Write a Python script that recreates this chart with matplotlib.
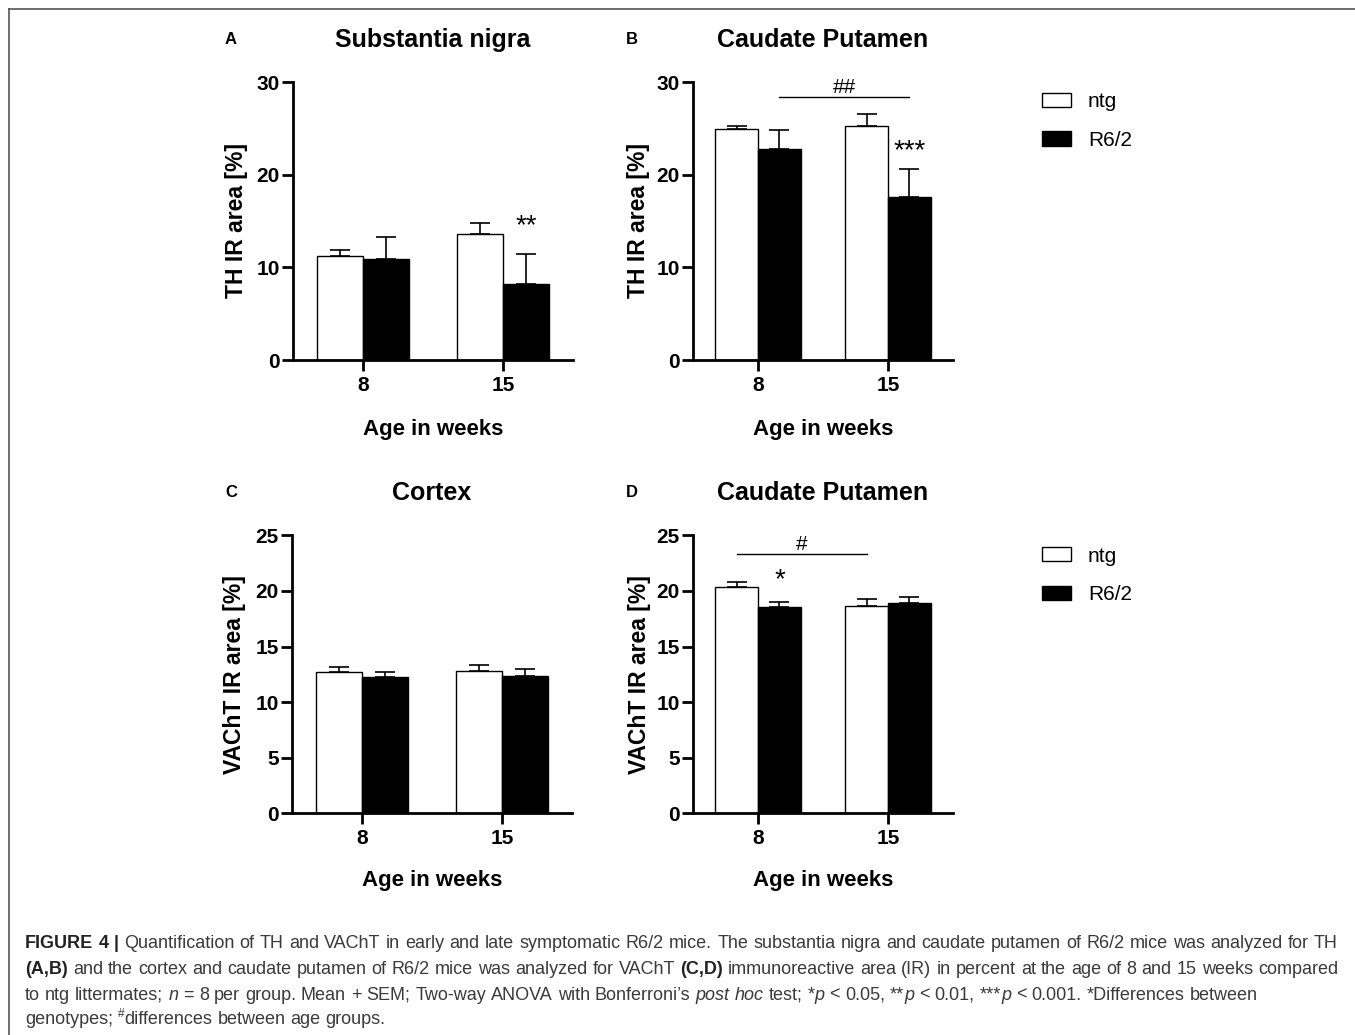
import matplotlib
matplotlib.use('Agg')
import matplotlib.pyplot as plt
from matplotlib.lines import Line2D
import matplotlib.transforms as mtransforms
import numpy as np

W, H = 1355, 1035
plt.rcParams['font.family'] = ['Liberation Sans', 'DejaVu Sans']

# ---------------- data ----------------
ages = ['8', '15']
groups = ['ntg', 'R6/2']

sn_ntg = [11.2, 13.55]
sn_ntg_sem = [0.7, 1.25]
sn_r62 = [10.85, 8.2]
sn_r62_sem = [2.45, 3.25]

cpth_ntg = [24.9, 25.2]
cpth_ntg_sem = [0.35, 1.4]
cpth_r62 = [22.8, 17.6]
cpth_r62_sem = [2.05, 3.0]

ctx_ntg = [12.73, 12.82]
ctx_ntg_sem = [0.42, 0.55]
ctx_r62 = [12.23, 12.35]
ctx_r62_sem = [0.45, 0.63]

cpv_ntg = [20.32, 18.67]
cpv_ntg_sem = [0.45, 0.57]
cpv_r62 = [18.58, 18.91]
cpv_r62_sem = [0.45, 0.51]

titles = ['Substantia nigra', 'Caudate Putamen', 'Cortex', 'Caudate Putamen']
letters = ['A', 'B', 'C', 'D']
ylabels = ['TH IR area [%]', 'TH IR area [%]', 'VAChT IR area [%]', 'VAChT IR area [%]']
yticks_th = [0, 10, 20, 30]
yticks_v = [0, 5, 10, 15, 20, 25]
xlabel = 'Age in weeks'

# ---------------- figure ----------------
fig = plt.figure(figsize=(W / 100, H / 100), dpi=100)


def add_ax(l, r, t, b):
    return fig.add_axes([l / W, 1 - b / H, (r - l) / W, (b - t) / H])


ax_rects = [(293, 573, 82, 360), (693, 953, 82, 360),
            (292, 572, 535.3, 813.3), (693, 953, 535.3, 813.3)]
data = [(sn_ntg, sn_ntg_sem, sn_r62, sn_r62_sem),
        (cpth_ntg, cpth_ntg_sem, cpth_r62, cpth_r62_sem),
        (ctx_ntg, ctx_ntg_sem, ctx_r62, ctx_r62_sem),
        (cpv_ntg, cpv_ntg_sem, cpv_r62, cpv_r62_sem)]
ylims = [30, 30, 25, 25]
yticks = [yticks_th, yticks_th, yticks_v, yticks_v]
ylab_x = [-0.200, -0.2115, -0.2036, -0.204]
xlab_y = [-0.270, -0.270, -0.2615, -0.2615]
title_base = [47, 47, 500, 500]
letter_x = [225, 626, 225, 626]

x = np.arange(len(ages))
bw = 0.33
axes = []
bars_handles = None
for i, (l, r, t, b) in enumerate(ax_rects):
    ax = add_ax(l, r, t, b)
    axes.append(ax)
    ntg, ntg_s, r62, r62_s = data[i]
    ekw = dict(elinewidth=1.2, capthick=1.2, ecolor='black')
    b1 = ax.bar(x - bw / 2, ntg, bw, color='white', edgecolor='black', linewidth=1.0,
                yerr=[np.zeros(2), ntg_s], capsize=7.5, error_kw=ekw, label=groups[0])
    b2 = ax.bar(x + bw / 2, r62, bw, color='black', edgecolor='black', linewidth=1.0,
                yerr=[np.zeros(2), r62_s], capsize=7.5, error_kw=ekw, label=groups[1])
    if bars_handles is None:
        bars_handles = [b1, b2]
    ax.set_xlim(-0.5, 1.5)
    ax.set_ylim(0, ylims[i])
    ax.set_yticks(yticks[i])
    ax.set_xticks(x)
    ax.set_xticklabels(ages)
    for s in ['top', 'right']:
        ax.spines[s].set_visible(False)
    for s in ['left', 'bottom']:
        ax.spines[s].set_linewidth(2.0)
    ax.tick_params(axis='both', length=8, width=2.0, labelsize=15)
    ax.tick_params(axis='y', pad=1.5)
    ax.tick_params(axis='x', pad=3.5)
    for lab in ax.get_xticklabels() + ax.get_yticklabels():
        lab.set_fontweight('bold')
    ax.set_ylabel(ylabels[i], fontsize=16.5, fontweight='bold')
    ax.yaxis.label.set_va('center')
    ax.yaxis.set_label_coords(ylab_x[i], 0.5)
    ax.set_xlabel(xlabel, fontsize=16, fontweight='bold')
    ax.xaxis.label.set_va('baseline')
    ax.xaxis.set_label_coords(0.5, xlab_y[i])
    cx = (l + r) / 2
    fig.text(cx / W, 1 - title_base[i] / H, titles[i], ha='center', va='baseline',
             fontsize=18, fontweight='bold')
    fig.text(letter_x[i] / W, 1 - (title_base[i] - 3) / H, letters[i], ha='left', va='baseline',
             fontsize=12, fontweight='bold')


def mark(ax, xd, yc, s, fs, frac):
    tr = mtransforms.offset_copy(ax.transData, fig=fig, y=-frac * fs, units='points')
    ax.text(xd, yc, s, transform=tr, ha='center', va='baseline', fontsize=fs, clip_on=False)


# significance marks
mark(axes[0], 1 + bw / 2, 15.0, '**', 20, 0.43)
mark(axes[1], 1 + bw / 2, 23.1, '***', 20, 0.43)
mark(axes[3], 0 + bw / 2, 21.4, '*', 20, 0.43)
# age group brackets
axes[1].plot([0 + bw / 2, 1 + bw / 2], [28.4, 28.4], color='black', lw=1.0, clip_on=False)
mark(axes[1], 0.5 + bw / 2, 29.6, '##', 15, 0.35)
axes[3].plot([0 - bw / 2, 1 - bw / 2], [23.3, 23.3], color='black', lw=1.0, clip_on=False)
mark(axes[3], 0.5 - bw / 2, 24.3, '#', 15, 0.35)

# legends
for top in [92, 92 + 454.7]:
    fig.legend(bars_handles, groups, loc='upper left',
               bbox_to_anchor=(1042 / W, 1 - top / H), bbox_transform=fig.transFigure,
               frameon=False, fontsize=15, handlelength=1.39, handleheight=0.67,
               handletextpad=0.81, labelspacing=0.95, borderpad=0, borderaxespad=0)

# border
fig.add_artist(Line2D([8.5 / W, 8.5 / W], [1 - 8.5 / H, 0], color='#555555', lw=1.2,
                      transform=fig.transFigure))
fig.add_artist(Line2D([8.5 / W, 1], [1 - 8.5 / H, 1 - 8.5 / H], color='#555555', lw=1.2,
                      transform=fig.transFigure))

# ---------------- caption ----------------
cap_family = ['Liberation Sans', 'DejaVu Sans']
cap_lines = [
    [("FIGURE 4 |", 'b'), (" Quantification of TH and VAChT in early and late symptomatic R6/2 mice. "
                           "The substantia nigra and caudate putamen of R6/2 mice was analyzed for TH", 'r')],
    [("(A,B)", 'b'), (" and the cortex and caudate putamen of R6/2 mice was analyzed for VAChT ", 'r'),
     ("(C,D)", 'b'), (" immunoreactive area (IR) in percent at the age of 8 and 15 weeks compared", 'r')],
    [("to ntg littermates; ", 'r'), ("n", 'i'), (" = 8 per group. Mean + SEM; Two-way ANOVA with Bonferroni\u2019s ", 'r'),
     ("post hoc", 'i'), (" test; *", 'r'), ("p", 'i'), (" < 0.05, **", 'r'), ("p", 'i'),
     (" < 0.01, ***", 'r'), ("p", 'i'), (" < 0.001. *Differences between", 'r')],
    [("genotypes; ", 'r'), ("#", 's'), ("differences between age groups.", 'r')],
]
cap_justify = [True, True, False, False]
cap_base = [948.5, 974, 999.5, 1024.5]
cap_left, cap_right = 25, 1338


def to_words(segs):
    words = [[]]
    for txt, st in segs:
        parts = txt.split(' ')
        for k, p in enumerate(parts):
            if k > 0:
                words.append([])
            if p:
                words[-1].append((p, st))
    return [w for w in words if w]


renderer = fig.canvas.get_renderer()


def style_kw(st, fs):
    kw = dict(fontsize=fs, color='#3a3a3a', family=cap_family)
    if st == 'b':
        kw.update(fontweight='bold', color='#222222')
    elif st == 'i':
        kw.update(style='italic')
    elif st == 's':
        kw.update(fontsize=fs * 0.65)
    return kw


def measure(s, st, fs):
    t = fig.text(0, 0, s, **style_kw(st, fs))
    w = t.get_window_extent(renderer).width
    t.remove()
    return w


def word_width(word, fs):
    return sum(measure(s, st, fs) for s, st in word)


def space_width(fs):
    return measure('a a', 'r', fs) - measure('aa', 'r', fs)


fs0 = 12.0
w0 = sum(word_width(w, fs0) for w in to_words(cap_lines[0]))
n0 = len(to_words(cap_lines[0])) - 1
w0 += n0 * space_width(fs0)
cap_fs = fs0 * (cap_right - cap_left) / w0

for li, segs in enumerate(cap_lines):
    words = to_words(segs)
    widths = [word_width(w, cap_fs) for w in words]
    sp = space_width(cap_fs)
    if cap_justify[li] and len(words) > 1:
        sp = (cap_right - cap_left - sum(widths)) / (len(words) - 1)
    xp = cap_left
    for w, ww in zip(words, widths):
        xx = xp
        for s, st in w:
            kw = style_kw(st, cap_fs)
            yb = cap_base[li] - (cap_fs * 0.42 * 100 / 72 if st == 's' else 0)
            fig.text(xx / W, 1 - yb / H, s, ha='left', va='baseline', **kw)
            xx += measure(s, st, cap_fs)
        xp += ww + sp

fig.savefig('out.png', dpi=100)
